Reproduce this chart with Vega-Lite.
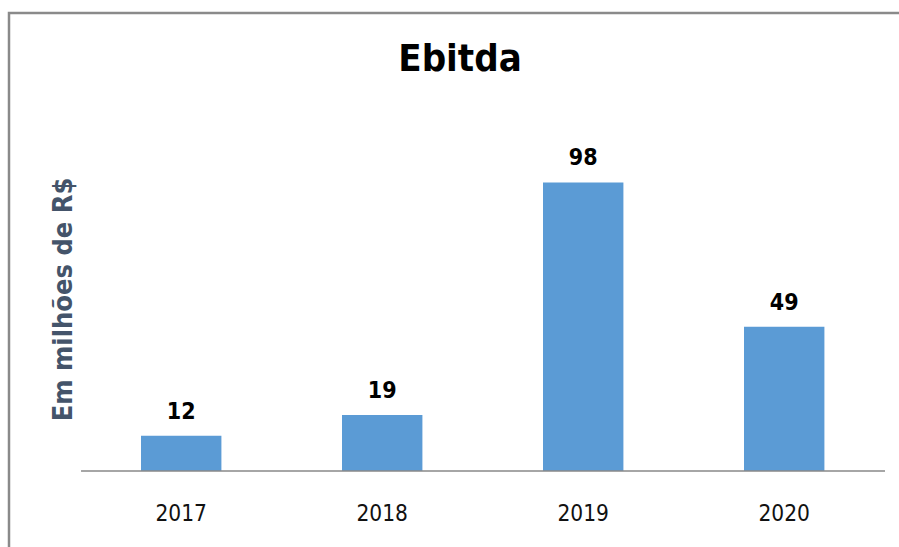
{
  "$schema": "https://vega.github.io/schema/vega-lite/v6.json",
  "width": 896,
  "height": 540,
  "autosize": {"type": "none"},
  "padding": {"left": 9, "top": 13, "right": -6, "bottom": -6},
  "background": "white",
  "config": {
    "view": {"stroke": "#8a8a8a", "strokeWidth": 2.5},
    "font": "DejaVu Sans Condensed, sans-serif"
  },
  "title": {
    "text": "Ebitda",
    "fontSize": 38,
    "fontWeight": "bold",
    "color": "#000000",
    "anchor": "middle",
    "frame": "group",
    "baseline": "alphabetic",
    "offset": -60,
    "dy": 36,
    "dx": 3
  },
  "datasets": {
    "ebitda": [
      {"year": "2017", "value": 12},
      {"year": "2018", "value": 19},
      {"year": "2019", "value": 98},
      {"year": "2020", "value": 49}
    ],
    "baseline": [{"start": "2017", "end": "2020"}]
  },
  "layer": [
    {
      "data": {"name": "ebitda"},
      "mark": {"type": "bar", "color": "#5B9BD5"},
      "encoding": {
        "x": {
          "field": "year",
          "type": "nominal",
          "scale": {"paddingInner": 0.6, "paddingOuter": 0.52886, "align": 0.6209},
          "axis": {
            "title": null,
            "orient": "bottom",
            "offset": -82,
            "domain": false,
            "ticks": false,
            "tickSize": 0,
            "labelPadding": 49,
            "labelBaseline": "alphabetic",
            "labelFontSize": 22.5,
            "labelColor": "#111111",
            "labelAngle": 0,
            "grid": false
          }
        },
        "y": {
          "field": "value",
          "type": "quantitative",
          "scale": {"domain": [-27.84, 155.52], "zero": false, "nice": false},
          "axis": {
            "title": "Em milhões de R$",
            "labels": false,
            "ticks": false,
            "domain": false,
            "grid": false,
            "titleFontSize": 27,
            "titleFontWeight": "bold",
            "titleColor": "#44546A",
            "titleAngle": -90,
            "titleBaseline": "alphabetic",
            "titleAlign": "center",
            "titleX": 62.5,
            "titleY": 286
          }
        }
      }
    },
    {
      "data": {"name": "ebitda"},
      "mark": {"type": "text", "dy": -17, "baseline": "alphabetic", "fontSize": 23, "fontWeight": "bold", "color": "#000000"},
      "encoding": {
        "x": {"field": "year", "type": "nominal"},
        "y": {"field": "value", "type": "quantitative"},
        "text": {"field": "value", "type": "quantitative"}
      }
    },
    {
      "data": {"name": "baseline"},
      "mark": {"type": "rule", "color": "#898989", "strokeWidth": 1.5},
      "encoding": {
        "x": {"field": "start", "type": "nominal", "bandPosition": -0.746},
        "x2": {"field": "end", "bandPosition": 1.754},
        "y": {"datum": 0, "type": "quantitative"}
      }
    }
  ]
}
